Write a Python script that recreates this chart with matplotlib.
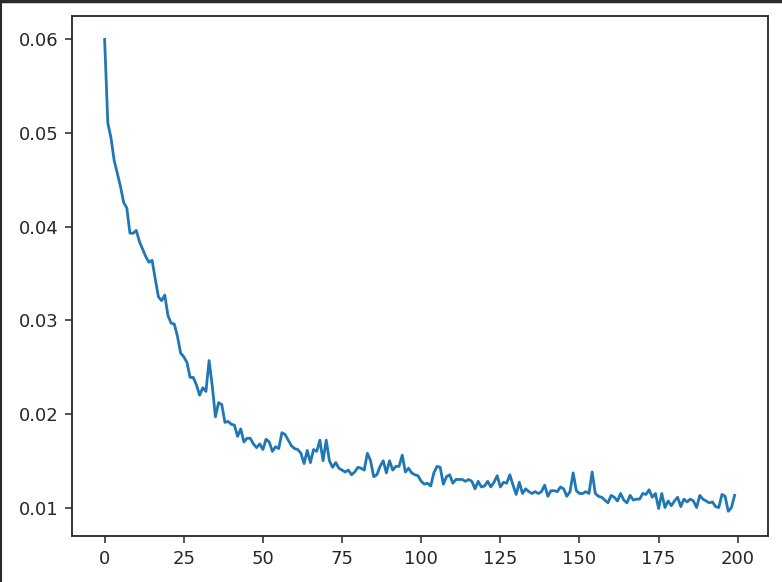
import matplotlib
matplotlib.use("Agg")
import matplotlib.pyplot as plt
from matplotlib.lines import Line2D

loss = [
    0.0600, 0.0511, 0.0495, 0.0471, 0.0457, 0.0443, 0.0426, 0.0420, 0.0393, 0.0393,
    0.0396, 0.0384, 0.0376, 0.0368, 0.0362, 0.0364, 0.0344, 0.0325, 0.0321, 0.0327,
    0.0305, 0.0297, 0.0296, 0.0283, 0.0265, 0.0261, 0.0255, 0.0239, 0.0239, 0.0231,
    0.0220, 0.0228, 0.0224, 0.0257, 0.0230, 0.0197, 0.0212, 0.0210, 0.0191, 0.0192,
    0.0189, 0.0188, 0.0176, 0.0184, 0.0170, 0.0174, 0.0174, 0.0168, 0.0164, 0.0168,
    0.0162, 0.0173, 0.0170, 0.0160, 0.0165, 0.0163, 0.0180, 0.0178, 0.0172, 0.0166,
    0.0163, 0.0162, 0.0158, 0.0147, 0.0161, 0.0148, 0.0162, 0.0160, 0.0172, 0.0150,
    0.0172, 0.0150, 0.0143, 0.0148, 0.0142, 0.0140, 0.0138, 0.0140, 0.0135, 0.0138,
    0.0143, 0.0142, 0.0140, 0.0158, 0.0150, 0.0133, 0.0135, 0.0144, 0.0150, 0.0137,
    0.0150, 0.0140, 0.0144, 0.0144, 0.0156, 0.0138, 0.0142, 0.0137, 0.0135, 0.0134,
    0.0128, 0.0125, 0.0126, 0.0123, 0.0137, 0.0144, 0.0143, 0.0125, 0.0133, 0.0135,
    0.0126, 0.0130, 0.0130, 0.0130, 0.0128, 0.0130, 0.0128, 0.0120, 0.0128, 0.0122,
    0.0123, 0.0128, 0.0122, 0.0127, 0.0134, 0.0122, 0.0127, 0.0126, 0.0135, 0.0124,
    0.0114, 0.0127, 0.0115, 0.0120, 0.0117, 0.0115, 0.0117, 0.0115, 0.0117, 0.0124,
    0.0112, 0.0118, 0.0118, 0.0117, 0.0122, 0.0120, 0.0112, 0.0117, 0.0137, 0.0118,
    0.0115, 0.0115, 0.0117, 0.0115, 0.0138, 0.0115, 0.0112, 0.0111, 0.0108, 0.0105,
    0.0113, 0.0111, 0.0107, 0.0115, 0.0108, 0.0105, 0.0113, 0.0108, 0.0109, 0.0109,
    0.0115, 0.0114, 0.0119, 0.0111, 0.0115, 0.0099, 0.0115, 0.0100, 0.0107, 0.0102,
    0.0107, 0.0111, 0.0101, 0.0109, 0.0106, 0.0109, 0.0107, 0.0100, 0.0113, 0.0109,
    0.0107, 0.0105, 0.0106, 0.0101, 0.0100, 0.0114, 0.0112, 0.0096, 0.0100, 0.0113,
]
epochs = list(range(len(loss)))

fig = plt.figure(figsize=(7.82, 5.82), dpi=100)
ax = fig.add_axes([0.0921, 0.0790, 0.8906, 0.8935])
ax.plot(epochs, loss, color="#1f77b4", linewidth=2.0)
ax.set_xlim(-10.3, 209.7)
ax.set_ylim(0.00696, 0.0625)
ax.set_xticks([0, 25, 50, 75, 100, 125, 150, 175, 200])
ax.set_yticks([0.01, 0.02, 0.03, 0.04, 0.05, 0.06])
ax.tick_params(labelsize=13, length=5, width=1.1, pad=4.8, colors="#262626")
for s in ax.spines.values():
    s.set_linewidth(1.3)
    s.set_color("#262626")

# screenshot frame at top and left
fig.add_artist(Line2D([0, 1], [0.9985, 0.9985], transform=fig.transFigure,
                      color="#2b2b2b", linewidth=2.5))
fig.add_artist(Line2D([0.0015, 0.0015], [0, 1], transform=fig.transFigure,
                      color="#2b2b2b", linewidth=1.5))
fig.savefig("out.png", dpi=100)
